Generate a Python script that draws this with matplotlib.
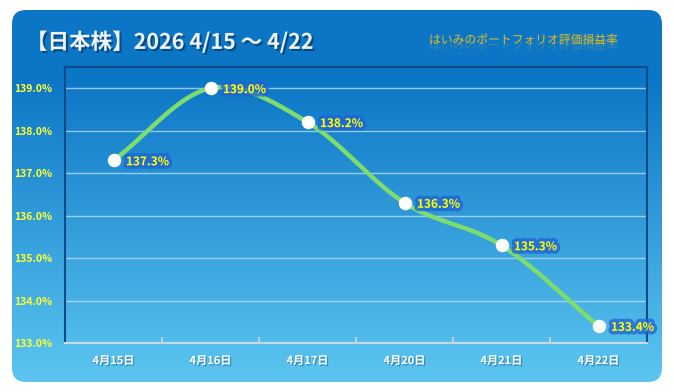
import numpy as np
import matplotlib
matplotlib.use("Agg")
import matplotlib.pyplot as plt
from matplotlib.patches import FancyBboxPatch
import matplotlib.patheffects as pe

plt.rcParams['font.family'] = ['Noto Sans CJK JP', 'DejaVu Sans']

# data
dates = ['4月15日', '4月16日', '4月17日', '4月20日', '4月21日', '4月22日']
values = [137.3, 139.0, 138.2, 136.3, 135.3, 133.4]
yticks = [133.0, 134.0, 135.0, 136.0, 137.0, 138.0, 139.0]
title = '【日本株】2026 4/15 ～ 4/22'
subtitle = 'はいみのポートフォリオ評価損益率'

W, H = 674, 392
fig = plt.figure(figsize=(W / 100, H / 100), dpi=100)
fig.patch.set_facecolor('white')

# background panel with vertical gradient
bg = fig.add_axes([0, 0, 1, 1])
bg.set_xlim(0, W)
bg.set_ylim(H, 0)
bg.axis('off')
grad = np.linspace(0, 1, 256).reshape(-1, 1)
top = np.array([0x0c, 0x76, 0xc6]) / 255
bot = np.array([0x5c, 0xc6, 0xf0]) / 255
t = np.clip((grad - 0.18) / 0.82, 0, 1)
img = top * (1 - t)[..., None] + bot * t[..., None]
img = img.reshape(256, 1, 3)
im = bg.imshow(img, extent=[12, 662, 382, 10], aspect='auto', zorder=1)
panel = FancyBboxPatch((12, 10), 650, 372, boxstyle='round,pad=0,rounding_size=14',
                       transform=bg.transData, facecolor='none', edgecolor='none')
bg.add_patch(panel)
im.set_clip_path(panel)

bg.text(26, 42, title, fontsize=15.5, fontweight='bold', color='#eef3fa', va='center',
        ha='left', zorder=3,
        path_effects=[pe.withSimplePatchShadow(offset=(1.5, -1.5), shadow_rgbFace='#063a6a', alpha=0.7)])
bg.text(523, 40, subtitle, fontsize=8.5, color='#e6bc1c', style='italic', va='center',
        ha='center', zorder=3,
        path_effects=[pe.withSimplePatchShadow(offset=(0, -4), shadow_rgbFace='#d0b040', alpha=0.25)])

# plot area
ax = fig.add_axes([65 / W, 1 - 343 / H, (647 - 65) / W, (343 - 67) / H])
ax.set_facecolor('none')
x = np.arange(len(values))
ax.set_xlim(-0.5, len(values) - 0.5)
ax.set_ylim(133.0, 139.5)

# smooth curve (Catmull-Rom through the points)
pts = np.column_stack([x, values]).astype(float)
ext = np.vstack([2 * pts[0] - pts[1], pts, 2 * pts[-1] - pts[-2]])
cx, cy = [], []
for i in range(1, len(ext) - 2):
    p0, p1, p2, p3 = ext[i - 1], ext[i], ext[i + 1], ext[i + 2]
    s = np.linspace(0, 1, 30)[:, None]
    c = 0.5 * ((2 * p1) + (-p0 + p2) * s + (2 * p0 - 5 * p1 + 4 * p2 - p3) * s ** 2
               + (-p0 + 3 * p1 - 3 * p2 + p3) * s ** 3)
    cx.extend(c[:, 0]); cy.extend(c[:, 1])
ax.plot(cx, cy, color='#7ddc6e', lw=3.2, solid_capstyle='round', zorder=3, clip_on=False)
ax.scatter(x, values, s=75, color='white', zorder=4, clip_on=False)

for xi, v in zip(x, values):
    ax.annotate(f'{v:.1f}%', (xi, v), xytext=(9, -1), textcoords='offset points',
                fontsize=8.5, fontweight='bold', color='#ffff00', va='center', ha='left',
                zorder=5,
                path_effects=[pe.Stroke(linewidth=5, foreground='#1e62d8', alpha=0.75),
                              pe.Normal()])

ax.set_yticks(yticks)
ax.set_yticklabels([f'{v:.1f}%' for v in yticks])
ax.set_xticks(x)
ax.set_xticklabels(dates)
ax.set_xticks(np.arange(len(values) + 1) - 0.5, minor=True)
for v in yticks[1:]:
    ax.axhline(v, color='#b8dcf6', lw=1, alpha=0.8, zorder=1)

ax.tick_params(axis='y', length=0, pad=9, labelsize=7.5, labelcolor='#ffff30')
ax.tick_params(axis='x', which='major', length=0, pad=8, labelsize=8, labelcolor='white')
ax.tick_params(axis='x', which='minor', length=4, color='#c8d8e4', width=1.2, direction='in')
for lbl in ax.get_yticklabels():
    lbl.set_fontweight('bold')
for lbl in ax.get_xticklabels():
    lbl.set_fontweight('bold')
    lbl.set_path_effects([pe.withSimplePatchShadow(offset=(1, -1), shadow_rgbFace='#2a6e98', alpha=0.6)])

for side in ['left', 'top', 'right']:
    ax.spines[side].set_color('#0a4a86')
    ax.spines[side].set_linewidth(1.5)
ax.spines['bottom'].set_color('#c8d8e4')
ax.spines['bottom'].set_linewidth(1.5)

fig.savefig('out.png', dpi=100, facecolor='white')
